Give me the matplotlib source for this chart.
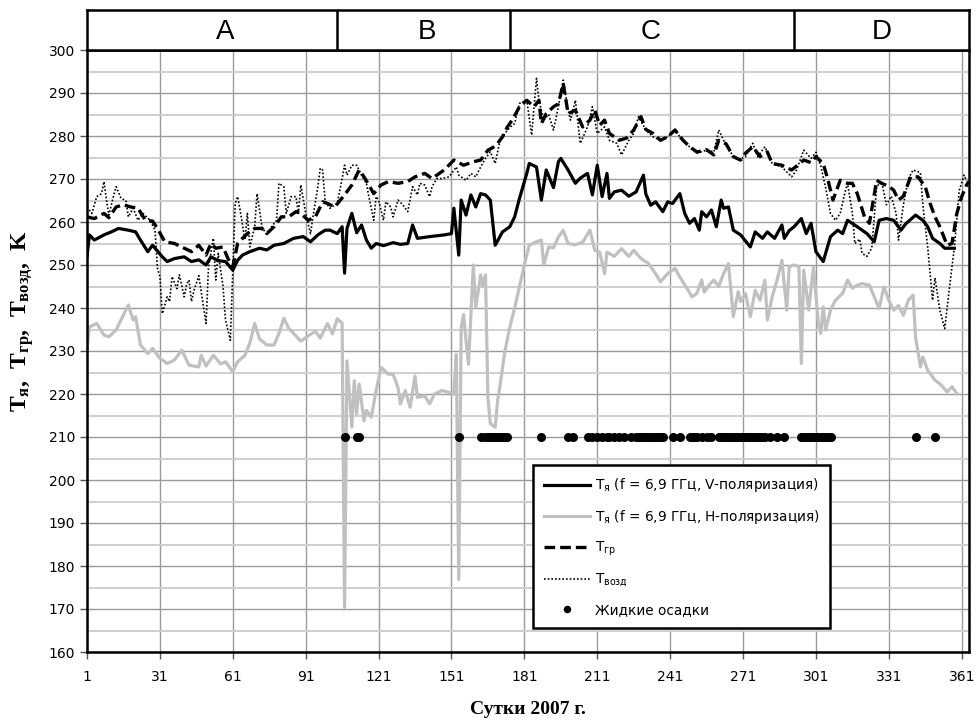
import matplotlib
matplotlib.use("Agg")
import matplotlib.pyplot as plt
from matplotlib.font_manager import FontProperties
from matplotlib.ticker import MultipleLocator

plt.rcParams["mathtext.fontset"] = "custom"
plt.rcParams["mathtext.rm"] = "Liberation Serif"
plt.rcParams["mathtext.bf"] = "Liberation Serif:bold"

# --- data ---
v_days = [1, 2, 4, 8, 11, 14, 18, 21, 23, 26, 28, 32, 34, 37, 41, 44, 47, 50, 52, 55,
          58, 61, 63, 65, 68, 72, 75, 78, 82, 86, 90, 93, 96, 99, 101, 104, 106, 107, 108, 110,
          112, 114, 116, 118, 120, 123, 127, 130, 133, 135, 137, 142, 148, 151, 152, 154, 155, 157, 159, 161,
          163, 165, 167, 169, 172, 175, 177, 179, 182, 183, 186, 188, 190, 192, 193, 195, 196, 199, 202, 204,
          207, 209, 211, 213, 215, 216, 218, 221, 224, 227, 230, 231, 233, 235, 238, 240, 242, 245, 247, 249,
          251, 253, 254, 256, 258, 260, 262, 263, 265, 267, 270, 274, 276, 279, 281, 284, 287, 288, 290, 292,
          295, 297, 299, 301, 304, 307, 310, 312, 314, 318, 322, 325, 327, 330, 333, 336, 338, 342, 345, 347,
          349, 352, 354, 358]
v_vals = [252.0, 257.0, 255.8, 257.0, 257.7, 258.5, 258.1, 257.7, 255.8, 253.1, 254.6, 251.9, 250.8, 251.5, 251.9, 250.8, 251.2, 250.0, 251.9, 251.0,
          250.8, 248.8, 251.1, 252.3, 253.1, 253.9, 253.5, 254.6, 255.0, 256.2, 256.6, 255.4, 257.0, 258.1, 258.1, 257.3, 258.9, 248.1, 258.5, 262.0,
          257.5, 259.3, 255.8, 253.9, 255.0, 254.5, 255.2, 254.8, 255.0, 259.3, 256.2, 256.6, 257.0, 257.3, 263.2, 252.3, 265.1, 261.6, 266.3, 263.5,
          266.6, 266.3, 265.1, 254.6, 257.7, 258.9, 261.2, 265.5, 271.3, 273.6, 272.8, 265.1, 272.1, 269.4, 268.0, 274.0, 274.8, 272.1, 269.0, 270.2,
          271.3, 266.3, 273.2, 265.9, 271.3, 265.5, 267.0, 267.4, 266.0, 267.0, 270.9, 266.5, 263.9, 264.7, 262.4, 264.7, 264.3, 266.6, 262.0, 259.7,
          260.8, 258.1, 262.4, 261.2, 262.8, 258.9, 265.1, 263.2, 263.5, 258.1, 257.0, 254.2, 257.7, 256.2, 257.7, 256.2, 259.3, 256.2, 258.0, 258.9,
          260.8, 257.3, 259.7, 253.1, 250.8, 256.6, 258.1, 257.3, 260.4, 258.9, 257.3, 255.4, 260.4, 260.8, 260.4, 258.1, 259.6, 261.6, 260.4, 258.9,
          256.2, 255.0, 253.9, 253.9]

h_days = [1, 2, 5, 8, 10, 13, 15, 18, 20, 21, 23, 26, 28, 31, 34, 37, 40, 43, 47, 48,
          50, 53, 56, 58, 61, 63, 66, 68, 70, 72, 75, 78, 80, 82, 84, 86, 89, 92, 95, 97,
          100, 102, 104, 106, 107, 108, 110, 111, 112, 113, 115, 116, 118, 120, 122, 125, 127, 129, 130, 132,
          134, 136, 137, 140, 142, 144, 147, 150, 152, 153, 154, 155, 156, 157, 158, 160, 161, 163, 164, 165,
          166, 167, 169, 170, 171, 173, 175, 177, 179, 181, 183, 186, 188, 189, 191, 193, 195, 197, 199, 202,
          205, 208, 210, 212, 214, 215, 218, 221, 224, 226, 229, 232, 235, 237, 240, 243, 245, 248, 250, 252,
          254, 255, 257, 259, 261, 263, 265, 267, 269, 270, 272, 274, 276, 278, 280, 281, 283, 285, 287, 289,
          290, 292, 294, 295, 296, 298, 300, 302, 303, 304, 305, 307, 309, 312, 314, 316, 318, 320, 323, 325,
          327, 329, 331, 333, 335, 337, 339, 341, 342, 344, 345, 347, 350, 352, 355, 357, 359]
h_vals = [230.5, 235.6, 236.4, 233.7, 233.3, 234.9, 237.2, 240.7, 237.2, 238.0, 231.4, 229.4, 230.6, 228.3, 227.1, 227.9, 230.2, 226.7, 226.3, 229.0,
          226.5, 229.0, 227.0, 227.5, 225.2, 227.5, 229.0, 231.8, 236.4, 232.8, 231.4, 231.4, 234.1, 237.6, 235.3, 234.1, 232.3, 233.5, 234.6, 233.0,
          236.4, 234.0, 237.5, 236.5, 170.4, 227.7, 212.3, 223.1, 215.4, 222.3, 213.8, 216.2, 214.6, 220.8, 226.2, 224.6, 224.6, 221.5, 217.7, 220.8,
          216.9, 224.2, 219.2, 219.6, 217.7, 220.0, 220.8, 220.4, 220.0, 229.2, 176.9, 235.4, 238.5, 232.3, 226.9, 250.0, 240.0, 247.7, 245.0, 247.7,
          219.2, 213.1, 212.3, 218.5, 222.0, 230.0, 235.5, 240.0, 245.0, 250.0, 254.6, 255.4, 255.8, 250.0, 254.2, 254.0, 256.5, 258.1, 255.0, 254.7,
          255.3, 258.1, 253.4, 253.0, 248.0, 253.0, 252.0, 253.8, 252.0, 253.4, 251.5, 250.4, 248.0, 246.1, 248.0, 249.2, 247.2, 244.5, 242.6, 243.4,
          246.5, 243.7, 245.3, 246.5, 245.0, 248.0, 250.3, 238.0, 243.8, 241.5, 243.4, 238.0, 244.1, 241.8, 246.5, 237.2, 242.6, 246.5, 251.1, 239.5,
          249.6, 250.0, 249.6, 227.1, 248.8, 239.5, 249.6, 236.4, 234.1, 240.3, 234.9, 239.5, 241.8, 243.4, 246.5, 244.6, 245.3, 245.7, 245.3, 242.6,
          239.9, 244.9, 241.8, 239.5, 240.6, 238.3, 241.8, 243.0, 233.3, 226.3, 228.6, 225.5, 223.2, 222.4, 220.5, 221.7, 220.1]

gr_days = [1, 4, 8, 10, 13, 16, 19, 22, 25, 28, 30, 33, 37, 41, 44, 47, 50, 52, 54, 57,
           59, 61, 63, 65, 67, 70, 73, 75, 78, 81, 84, 87, 89, 92, 95, 98, 100, 103, 107, 110,
           113, 115, 117, 119, 122, 125, 129, 133, 136, 140, 143, 148, 152, 156, 160, 163, 166, 168, 170, 172,
           174, 176, 179, 182, 185, 187, 188, 190, 193, 195, 197, 199, 202, 205, 208, 210, 212, 214, 216, 220,
           223, 226, 229, 231, 234, 237, 240, 243, 246, 249, 252, 256, 259, 261, 264, 267, 270, 272, 275, 278,
           281, 283, 287, 291, 293, 296, 299, 301, 304, 306, 308, 311, 314, 316, 318, 321, 323, 326, 328, 331,
           333, 335, 337, 340, 343, 346, 348, 350, 352, 355, 357, 359, 361, 363, 364]
gr_vals = [261.2, 260.8, 262.0, 261.0, 263.5, 264.0, 263.5, 263.2, 260.4, 260.2, 258.5, 255.4, 255.0, 253.9, 253.1, 254.6, 252.3, 255.0, 253.9, 254.2,
           251.5, 249.6, 255.0, 256.2, 257.3, 258.5, 258.5, 257.3, 258.9, 261.2, 261.2, 262.4, 262.0, 260.4, 261.2, 264.7, 264.3, 263.5, 266.3, 268.6,
           272.1, 270.5, 268.6, 266.6, 268.6, 269.4, 269.0, 269.4, 270.5, 271.3, 270.1, 272.1, 274.4, 273.2, 274.0, 274.4, 276.7, 277.3, 278.3, 279.8,
           282.1, 283.7, 286.8, 288.3, 286.8, 288.3, 282.9, 285.2, 286.8, 287.5, 292.2, 285.2, 286.0, 282.1, 283.7, 286.0, 282.5, 283.7, 280.6, 279.0,
           279.5, 281.4, 284.5, 281.5, 280.6, 279.0, 279.8, 281.4, 279.2, 277.5, 276.3, 276.8, 275.6, 279.0, 278.2, 275.2, 274.4, 276.0, 277.5, 275.2,
           276.3, 273.6, 273.2, 272.1, 273.0, 274.4, 273.8, 275.2, 273.6, 269.7, 265.1, 269.7, 269.0, 269.0, 266.6, 261.2, 259.7, 269.7, 269.0, 268.3,
           267.4, 265.1, 266.0, 270.5, 270.5, 268.2, 264.3, 261.2, 258.9, 254.6, 255.0, 262.0, 265.9, 268.6, 269.4]

air_days = [1, 3, 5, 7, 8, 9, 10, 12, 13, 15, 17, 18, 20, 22, 24, 27, 29, 30, 31, 32,
            34, 35, 36, 38, 39, 41, 42, 43, 44, 45, 47, 50, 51, 53, 54, 55, 57, 58, 60, 62,
            63, 64, 66, 67, 68, 70, 71, 73, 75, 77, 79, 80, 82, 83, 85, 87, 88, 89, 91, 93,
            94, 96, 97, 98, 99, 101, 104, 106, 107, 108, 110, 112, 114, 116, 117, 119, 120, 121, 123, 124,
            126, 127, 129, 131, 133, 135, 137, 138, 140, 142, 143, 145, 147, 150, 153, 154, 157, 159, 161, 163,
            165, 167, 169, 171, 173, 175, 177, 179, 182, 184, 186, 187, 189, 191, 193, 195, 197, 199, 200, 202,
            204, 207, 209, 211, 214, 216, 219, 221, 224, 226, 228, 231, 234, 237, 240, 243, 246, 249, 252, 256,
            259, 261, 263, 267, 269, 272, 275, 277, 280, 283, 287, 291, 293, 296, 299, 301, 303, 305, 307, 309,
            311, 313, 314, 316, 317, 319, 320, 322, 324, 326, 328, 330, 332, 334, 335, 337, 339, 341, 344, 345,
            347, 349, 350, 352, 354, 356, 358, 360, 362, 363]
air_vals = [263.5, 262.0, 265.9, 266.6, 269.4, 265.1, 261.6, 266.3, 268.2, 265.5, 265.0, 261.2, 263.2, 260.4, 262.0, 260.4, 258.1, 249.2, 247.3, 238.7,
            242.6, 241.5, 247.3, 244.5, 247.7, 242.6, 245.5, 246.5, 241.5, 244.0, 247.5, 236.4, 249.6, 256.2, 246.5, 252.7, 244.9, 237.2, 232.5, 264.3,
            265.9, 262.8, 255.8, 262.0, 254.2, 258.9, 266.6, 258.9, 257.0, 258.9, 260.4, 269.0, 268.2, 262.0, 265.9, 265.9, 262.0, 268.6, 262.0, 257.3,
            261.2, 268.2, 272.5, 272.1, 264.7, 263.2, 264.3, 270.1, 273.2, 270.9, 273.2, 273.2, 270.9, 269.0, 265.9, 260.4, 265.9, 265.1, 260.4, 264.7,
            263.5, 261.2, 265.1, 264.0, 262.4, 268.2, 266.3, 269.0, 268.6, 265.9, 268.2, 270.1, 270.1, 270.5, 272.8, 270.9, 269.7, 271.3, 270.5, 272.8,
            274.8, 276.3, 273.6, 279.0, 280.6, 282.0, 282.9, 287.6, 288.3, 280.2, 293.4, 288.3, 283.7, 285.0, 281.4, 286.8, 293.0, 286.0, 283.7, 288.3,
            278.3, 282.1, 286.8, 280.6, 282.1, 279.0, 278.3, 275.6, 279.0, 280.6, 284.5, 281.4, 279.8, 279.0, 279.8, 281.4, 279.0, 277.5, 276.0, 276.7,
            276.3, 281.4, 279.0, 275.2, 274.4, 275.2, 278.3, 275.2, 277.5, 273.6, 272.8, 270.5, 272.1, 276.7, 274.8, 276.2, 273.0, 268.0, 262.0, 260.4,
            262.0, 267.0, 269.0, 262.0, 255.0, 256.0, 252.7, 252.0, 254.0, 268.2, 269.5, 264.0, 266.0, 262.0, 255.8, 264.0, 270.0, 272.1, 271.5, 264.0,
            254.2, 241.8, 247.0, 239.5, 235.2, 244.9, 254.2, 267.4, 270.9, 269.5]

rain_days = [107, 112, 113, 154, 163, 165, 166, 167, 168, 169, 170, 171, 172, 173, 174, 188, 199, 201, 207, 209,
             211, 213, 215, 216, 218, 220, 222, 225, 227, 228, 229, 230, 231, 232, 233, 234, 235, 236, 237, 238,
             242, 245, 249, 250, 251, 252, 254, 256, 258, 261, 262, 263, 264, 265, 266, 267, 268, 269, 270, 271,
             272, 273, 274, 275, 276, 277, 278, 279, 280, 282, 285, 288, 295, 296, 297, 298, 299, 300, 301, 302,
             303, 304, 305, 306, 307, 342, 350]
rain_level = 210

season_edges = [1, 104, 175, 292, 364]
season_labels = ["A", "B", "C", "D"]
season_label_x = [58, 141, 233, 328]

x_ticks = [1, 31, 61, 91, 121, 151, 181, 211, 241, 271, 301, 331, 361]

W, H = 976, 724
fig = plt.figure(figsize=(W / 100, H / 100), dpi=100)
left, right = 87 / W, 969 / W
bottom, top = 1 - 652 / H, 1 - 50 / H
band_top = 1 - 10 / H

ax = fig.add_axes([left, bottom, right - left, top - bottom])
band = fig.add_axes([left, top, right - left, band_top - top])

ax.plot(h_days, h_vals, color="#c0c0c0", lw=2.3, zorder=2,
        label=r"T$_{\mathrm{я}}$ (f = 6,9 ГГц, H-поляризация)")
ax.plot(air_days, air_vals, color="black", lw=1.2, ls=(0, (1, 1.2)), zorder=3,
        label=r"T$_{\mathrm{возд}}$")
ax.plot(gr_days, gr_vals, color="black", lw=2.4, ls=(0, (3.2, 1.5)), zorder=4,
        label=r"T$_{\mathrm{гр}}$")
ax.plot(v_days, v_vals, color="black", lw=2.3, zorder=5,
        label=r"T$_{\mathrm{я}}$ (f = 6,9 ГГц, V-поляризация)")
ax.plot(rain_days, [rain_level] * len(rain_days), ls="none", marker="o", ms=5.5,
        color="black", zorder=6, label="Жидкие осадки")

ax.set_xlim(1, 364)
ax.set_ylim(160, 300)
ax.set_xticks(x_ticks)
ax.yaxis.set_major_locator(MultipleLocator(10))
ax.yaxis.set_minor_locator(MultipleLocator(5))
ax.grid(True, axis="x", color="#9a9a9a", lw=1.0, zorder=0)
ax.grid(True, axis="y", which="major", color="#9a9a9a", lw=1.0, zorder=0)
ax.grid(True, axis="y", which="minor", color="#cfcfcf", lw=1.4, zorder=0)
ax.set_axisbelow(True)
ax.tick_params(axis="both", which="major", direction="out", length=5, width=1,
               labelsize=10, color="#555555")
ax.tick_params(axis="y", which="minor", length=0)
ax.tick_params(axis="x", pad=8)
for sp in ax.spines.values():
    sp.set_linewidth(1.8)
    sp.set_color("black")

ax.set_xlabel("Сутки 2007 г.", family="Liberation Serif", fontweight="bold",
              fontsize=14, labelpad=12)
ax.set_ylabel(r"$\mathbf{T_{я},\ T_{гр},\ T_{возд},\ K}$", fontsize=17)
ax.yaxis.set_label_coords(-0.058, 0.55)

handles, labels = ax.get_legend_handles_labels()
order = [3, 0, 2, 1, 4]
leg = ax.legend([handles[i] for i in order], [labels[i] for i in order],
                loc="upper left", bbox_to_anchor=(0.506, 0.31),
                prop=FontProperties(family="DejaVu Sans", size=9.8, math_fontfamily="dejavusans"),
                frameon=True, fancybox=False, edgecolor="black", framealpha=1,
                handlelength=3.4, handletextpad=0.3, labelspacing=1.0,
                borderpad=0.8, borderaxespad=0, markerscale=0.8)
leg.get_frame().set_linewidth(1.8)
leg.set_zorder(10)

band.set_xlim(1, 364)
band.set_ylim(0, 1)
band.set_xticks([])
band.set_yticks([])
for sp in band.spines.values():
    sp.set_linewidth(1.8)
for xe in season_edges[1:-1]:
    band.axvline(xe, color="black", lw=1.8)
for lab, xc in zip(season_labels, season_label_x):
    band.text(xc, 0.45, lab, ha="center", va="center", fontsize=20,
              family="Liberation Sans")

fig.savefig("out.png", dpi=100)
